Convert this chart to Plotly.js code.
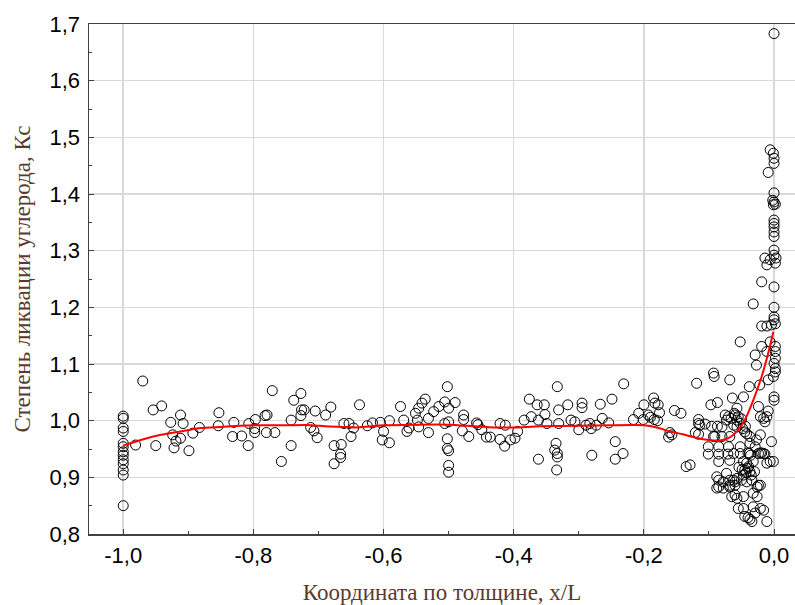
<!DOCTYPE html>
<html>
<head>
<meta charset="utf-8">
<script src="https://cdn.plot.ly/plotly-3.0.1.min.js"></script>
<style>html,body{margin:0;padding:0;overflow:hidden;background:#fff}#chart{width:795px;height:605px}</style>
</head>
<body>
<div id="chart"></div>
<script>
// Column of points at x = -1.0
const yEdge = [1.008,1.004,0.987,0.981,0.960,0.954,0.945,0.939,0.931,0.924,0.913,0.904,0.850];
const xEdge = [-1,-1,-1,-1,-1,-1,-1,-1,-1,-1,-1,-1,-1];

// Body of the slab, -1.0 < x < -0.6
const xBodyA = [-0.981,-0.970,-0.954,-0.941,-0.950,-0.927,-0.912,-0.908,-0.924,-0.919,-0.922,-0.912,-0.899,-0.893,-0.883,-0.854,-0.853,-0.830,-0.832,-0.818,-0.808,-0.807,-0.798,-0.797,-0.798,-0.782,-0.779,-0.780,-0.771,-0.767,-0.757,-0.742,-0.742,-0.738,-0.727,-0.726,-0.727,-0.722,-0.712,-0.707,-0.705,-0.702,-0.689,-0.681,-0.676,-0.676,-0.666,-0.665,-0.666,-0.661,-0.653,-0.650,-0.646,-0.637,-0.625,-0.617,-0.605,-0.600,-0.602,-0.591,-0.591];
const yBodyA = [0.957,1.070,1.019,1.026,0.956,0.997,1.010,0.995,0.975,0.964,0.952,0.969,0.947,0.978,0.988,0.991,1.014,0.997,0.972,0.973,0.956,0.995,0.979,1.002,0.986,1.009,1.010,0.979,1.053,0.979,0.928,1.001,0.956,1.036,1.048,1.019,1.009,1.019,0.988,0.982,1.017,0.970,1.010,1.024,0.956,0.924,0.941,0.958,0.935,0.995,0.995,0.972,0.987,1.028,0.991,0.996,0.997,0.981,0.966,0.961,1.000];

// Body, -0.6 < x < -0.2
const xBodyB = [-0.574,-0.569,-0.564,-0.561,-0.551,-0.546,-0.541,-0.536,-0.548,-0.546,-0.531,-0.531,-0.523,-0.515,-0.506,-0.502,-0.490,-0.506,-0.502,-0.502,-0.500,-0.500,-0.500,-0.500,-0.500,-0.477,-0.477,-0.479,-0.469,-0.457,-0.455,-0.449,-0.442,-0.436,-0.421,-0.413,-0.421,-0.414,-0.405,-0.398,-0.394,-0.384,-0.376,-0.373,-0.364,-0.362,-0.362,-0.353,-0.352,-0.349,-0.333,-0.331,-0.331,-0.335,-0.337,-0.333,-0.333,-0.334,-0.317,-0.312,-0.306,-0.300,-0.295,-0.295,-0.289,-0.283,-0.281,-0.280,-0.273,-0.267,-0.264,-0.254,-0.249,-0.244,-0.244,-0.232,-0.231,-0.216];
const yBodyB = [1.025,1.001,0.981,0.987,1.013,1.022,1.031,1.038,1.001,0.989,0.979,1.004,1.016,1.025,1.033,1.060,1.032,0.995,0.968,0.951,0.947,0.921,0.909,1.022,0.998,1.010,1.002,0.982,0.972,0.996,0.993,0.984,0.971,0.971,0.995,0.992,0.967,0.955,0.966,0.969,0.981,1.001,1.038,1.007,1.028,1.001,0.932,1.028,1.011,0.995,1.060,1.019,0.995,0.960,0.948,0.942,0.936,0.913,1.028,1.001,0.998,0.984,1.031,1.023,0.992,0.995,0.986,0.939,0.992,1.029,1.004,0.996,1.038,0.963,0.932,0.942,1.065,1.002];

// Near-surface zone, -0.21 < x < -0.09
const xNear = [-0.208,-0.200,-0.185,-0.183,-0.178,-0.193,-0.190,-0.184,-0.179,-0.176,-0.201,-0.160,-0.162,-0.157,-0.153,-0.143,-0.135,-0.129,-0.119,-0.116,-0.116,-0.121,-0.116,-0.106,-0.114,-0.093,-0.092,-0.097,-0.087,-0.091];
const yNear = [1.013,1.028,1.040,1.031,1.028,1.010,1.006,1.002,1.000,1.014,1.002,0.979,0.971,0.975,1.018,1.013,0.919,0.922,1.066,1.002,0.995,0.979,0.976,0.994,0.992,1.084,1.078,1.028,1.032,0.972];

// Surface zone, -0.1 < x <= 0
const xSurf = [-0.101,-0.085,-0.070,-0.052,-0.101,-0.085,-0.071,-0.052,-0.040,-0.036,-0.085,-0.068,-0.047,-0.042,-0.032,-0.039,-0.096,-0.087,-0.080,-0.093,-0.080,-0.068,-0.075,-0.070,-0.073,-0.060,-0.057,-0.055,-0.062,-0.052,-0.057,-0.068,-0.057,-0.047,-0.064,-0.038,-0.052,
  -0.042,-0.045,-0.037,-0.037,-0.029,-0.038,-0.021,-0.016,-0.062,-0.045,-0.037,-0.047,-0.035,-0.088,-0.073,
  -0.085,-0.078,-0.068,-0.060,-0.068,-0.050,-0.057,-0.062,-0.042,-0.034,-0.024,-0.021,-0.026,-0.078,-0.085,-0.088,-0.068,-0.060,
  -0.060,-0.047,-0.032,-0.026,-0.065,-0.057,-0.055,-0.047,-0.032,-0.021,-0.016,-0.029,-0.045,-0.040,-0.037,-0.034,-0.011,
  -0.004,-0.006,-0.001,-0.011,-0.014,-0.019,-0.024,-0.021,-0.027,-0.024,-0.009,-0.021,-0.016,-0.011,-0.014,-0.022,
  0.000,0.000,-0.001,-0.009,0.002,0.000,0.002,0.002,-0.029,-0.027,-0.011,-0.019,-0.006,0.002,0.002,-0.019,-0.011,-0.004,0.000,0.000,0.002,0.000,-0.032,
  0.000,-0.019,-0.014,-0.011,-0.006,0.003,0.002,0.000,0.000,0.000,0.000,0.000,0.000,0.000,0.000,-0.002,0.000,-0.001,0.002,-0.006,-0.001,0.000,0.000,-0.009,0.000,
  -0.066,-0.061,-0.050,-0.048,-0.044,-0.054,-0.049,-0.043,-0.040,-0.030];
const ySurf = [0.954,0.954,0.954,0.954,0.941,0.941,0.941,0.942,0.943,0.939,0.928,0.930,0.928,0.925,0.928,0.919,0.990,0.990,0.989,0.972,0.972,0.972,1.010,1.007,1.001,1.010,1.001,1.007,0.992,0.995,0.989,1.072,1.022,1.042,1.040,1.060,1.139,
  0.977,0.980,0.972,0.960,0.954,0.942,0.943,0.942,0.942,0.913,0.910,0.904,0.904,0.901,0.907,
  0.895,0.892,0.895,0.892,0.886,0.895,0.898,0.895,0.892,0.895,0.886,0.886,0.883,0.881,0.883,0.881,0.883,0.886,
  0.869,0.866,0.872,0.866,0.866,0.863,0.845,0.845,0.848,0.845,0.842,0.837,0.831,0.829,0.826,0.822,0.822,
  0.963,0.928,0.928,0.925,0.941,0.943,0.942,0.975,0.966,1.025,1.017,1.007,1.004,1.007,0.998,1.063,
  1.042,1.036,1.078,1.072,1.110,1.101,1.092,1.086,1.116,1.098,1.122,1.131,1.139,1.131,1.122,1.167,1.167,1.169,1.183,1.178,1.171,1.200,1.206,
  1.236,1.245,1.287,1.275,1.284,1.287,1.278,1.301,1.292,1.354,1.348,1.342,1.333,1.325,1.402,1.389,1.386,1.381,1.382,1.478,1.472,1.463,1.454,1.438,1.683,
  1.004,1.013,1.003,0.986,0.990,0.918,0.914,0.908,0.916,0.910];

// Smoothed (red) curve
const xFit = [-1.0,-0.973,-0.942,-0.912,-0.881,-0.85,-0.82,-0.8,-0.75,-0.71,-0.69,-0.66,-0.64,-0.6,-0.55,-0.5,-0.46,-0.43,-0.4,-0.36,-0.3,-0.25,-0.2,-0.18,-0.16,-0.14,-0.12,-0.1,-0.083,-0.07,-0.057,-0.045,-0.032,-0.019,-0.009,-0.001];
const yFit = [0.956,0.966,0.975,0.981,0.987,0.989,0.991,0.992,0.992,0.992,0.990,0.989,0.988,0.992,0.993,0.993,0.990,0.988,0.988,0.990,0.991,0.992,0.992,0.988,0.981,0.976,0.970,0.966,0.965,0.969,0.981,1.001,1.036,1.078,1.119,1.157];

// Tick labels
const xTickVals = [-1.0,-0.8,-0.6,-0.4,-0.2,0.0];
const xTickText = ['-1,0','-0,8','-0,6','-0,4','-0,2','0,0'];
const yTickVals = [0.8,0.9,1.0,1.1,1.2,1.3,1.4,1.5,1.6,1.7];
const yTickText = ['0,8','0,9','1,0','1,1','1,2','1,3','1,4','1,5','1,6','1,7'];

const xAll = [].concat(xEdge, xBodyA, xBodyB, xNear, xSurf);
const yAll = [].concat(yEdge, yBodyA, yBodyB, yNear, ySurf);

const traces = [
  {x: xAll, y: yAll, type: 'scatter', mode: 'markers', cliponaxis: false,
   marker: {symbol: 'circle-open', size: 10, color: '#000', line: {width: 1, color: '#000'}}, hoverinfo: 'skip'},
  {x: xFit, y: yFit, type: 'scatter', mode: 'lines', line: {color: '#ff0000', width: 2, shape: 'spline', smoothing: 0.6}, hoverinfo: 'skip'}
];

const titleColor = '#5a3a2a';
const layout = {
  width: 795, height: 605,
  margin: {l: 89, r: 0, t: 24, b: 71, pad: 0},
  paper_bgcolor: '#fff', plot_bgcolor: '#fff',
  showlegend: false,
  font: {family: 'Liberation Sans, Arial, sans-serif', size: 22, color: '#000'},
  xaxis: {
    range: [-1.0526, 0.0322], tickvals: xTickVals, ticktext: xTickText,
    ticks: 'inside', ticklen: 5, tickcolor: '#404040', ticklabelstandoff: 1,
    showline: true, linecolor: '#404040', linewidth: 1.5, mirror: true,
    showgrid: true, gridcolor: '#d9d9d9', gridwidth: 1.5, zeroline: false,
    minor: {dtick: 0.1, tick0: 0, ticks: 'inside', ticklen: 3, tickcolor: '#404040', showgrid: false},
    title: {text: 'Координата по толщине, x/L', standoff: 19,
            font: {family: 'Liberation Serif, Times New Roman, serif', size: 23, color: titleColor}}
  },
  yaxis: {
    range: [0.8, 1.7], tickvals: yTickVals, ticktext: yTickText,
    ticks: 'inside', ticklen: 5, tickcolor: '#404040', ticklabelstandoff: 3,
    showline: true, linecolor: '#404040', linewidth: 1.5, mirror: false,
    showgrid: true, gridcolor: '#d9d9d9', gridwidth: 1.5, zeroline: false,
    minor: {dtick: 0.05, tick0: 0.8, ticks: 'inside', ticklen: 3, tickcolor: '#404040', showgrid: false},
    title: {text: 'Степень ликвации углерода, Кс', standoff: 12,
            font: {family: 'Liberation Serif, Times New Roman, serif', size: 23, color: titleColor}}
  }
};

Plotly.newPlot('chart', traces, layout, {staticPlot: true, displayModeBar: false});
</script>
</body>
</html>
